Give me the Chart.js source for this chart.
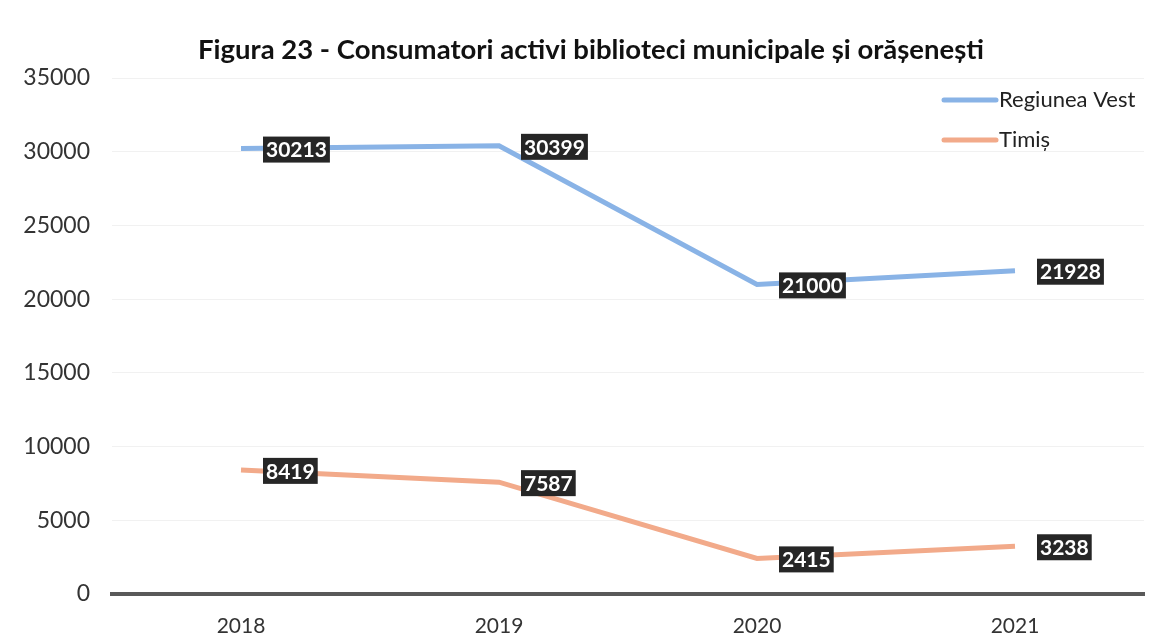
<!DOCTYPE html>
<html>
<head>
<meta charset="utf-8">
<script src="https://cdn.jsdelivr.net/npm/chart.js@4.4.1/dist/chart.umd.min.js"></script>
<style>
  html, body { margin: 0; padding: 0; background: #fff; }
  #wrap { width: 1160px; height: 634px; }
</style>
</head>
<body>
<div id="wrap"><canvas id="grafica"></canvas></div>
<script>
const years = ['2018', '2019', '2020', '2021'];
const regiuneaVest = [30213, 30399, 21000, 21928];
const timis = [8419, 7587, 2415, 3238];
const yTicks = [0, 5000, 10000, 15000, 20000, 25000, 30000, 35000];
const titlu = 'Figura 23 - Consumatori activi biblioteci municipale și orășenești';

const FONT = 'Lato, "Open Sans", sans-serif';

// titlul, centrat ca in original
const titlePlugin = {
    id: 'titlePlugin',
    afterDraw(chart) {
        const ctx = chart.ctx;
        ctx.save();
        ctx.font = 'bold 27.5px ' + FONT;
        ctx.fillStyle = '#111';
        ctx.textAlign = 'center';
        ctx.textBaseline = 'middle';
        ctx.fillText(titlu, 591, 50);
        ctx.restore();
    }
};

// etichete de valoare (casete negre) la dreapta punctelor
const valueLabels = {
    id: 'valueLabels',
    afterDatasetsDraw(chart) {
        const ctx = chart.ctx;
        ctx.save();
        ctx.font = 'bold 21px ' + FONT;
        ctx.textBaseline = 'middle';
        chart.data.datasets.forEach((ds, i) => {
            const meta = chart.getDatasetMeta(i);
            meta.data.forEach((pt, j) => {
                const txt = String(ds.data[j]);
                const w = ctx.measureText(txt).width + 6;
                const x = pt.x + 22;
                const y = pt.y + 1;
                ctx.fillStyle = '#262626';
                ctx.fillRect(x, y - 13, w, 26);
                ctx.fillStyle = '#fff';
                ctx.fillText(txt, x + 3, y + 1);
            });
        });
        ctx.restore();
    }
};

// legenda in coltul din dreapta sus
const cornerLegend = {
    id: 'cornerLegend',
    afterDraw(chart) {
        const ctx = chart.ctx;
        ctx.save();
        ctx.font = '22px ' + FONT;
        ctx.textBaseline = 'middle';
        chart.data.datasets.forEach((ds, i) => {
            const y = 100 + i * 40;
            ctx.strokeStyle = ds.borderColor;
            ctx.lineWidth = 5;
            ctx.lineCap = 'round';
            ctx.beginPath();
            ctx.moveTo(944, y);
            ctx.lineTo(996, y);
            ctx.stroke();
            ctx.fillStyle = '#222';
            ctx.fillText(ds.label, 999, y);
        });
        ctx.restore();
    }
};

new Chart(document.getElementById('grafica'), {
    type: 'line',
    data: {
        labels: years,
        datasets: [
            {
                label: 'Regiunea Vest',
                data: regiuneaVest,
                borderColor: '#89b3e6',
                borderWidth: 5,
                pointRadius: 0,
                tension: 0
            },
            {
                label: 'Timiș',
                data: timis,
                borderColor: '#f2aa8a',
                borderWidth: 5,
                pointRadius: 0,
                tension: 0
            }
        ]
    },
    options: {
        responsive: true,
        maintainAspectRatio: false,
        animation: false,
        layout: { padding: { left: 0, right: 16, top: 78, bottom: 0 } },
        plugins: {
            legend: { display: false },
            tooltip: { enabled: false },
            title: { display: false }
        },
        scales: {
            x: {
                offset: true,
                grid: { display: false },
                border: { display: true, color: '#595959', width: 4 },
                ticks: { color: '#333', font: { family: FONT, size: 21 }, padding: 12 },
                afterFit: (s) => { s.height = 40; }
            },
            y: {
                min: 0,
                max: 35000,
                afterBuildTicks: (s) => { s.ticks = yTicks.map(v => ({ value: v })); },
                grid: { color: '#f1f1f1', drawTicks: false },
                border: { display: false },
                ticks: {
                    color: '#333',
                    font: { family: FONT, size: 23 },
                    padding: 22,
                    callback: (v) => String(v)
                },
                afterFit: (s) => { s.width = 112; }
            }
        }
    },
    plugins: [valueLabels, cornerLegend, titlePlugin]
});
</script>
</body>
</html>
